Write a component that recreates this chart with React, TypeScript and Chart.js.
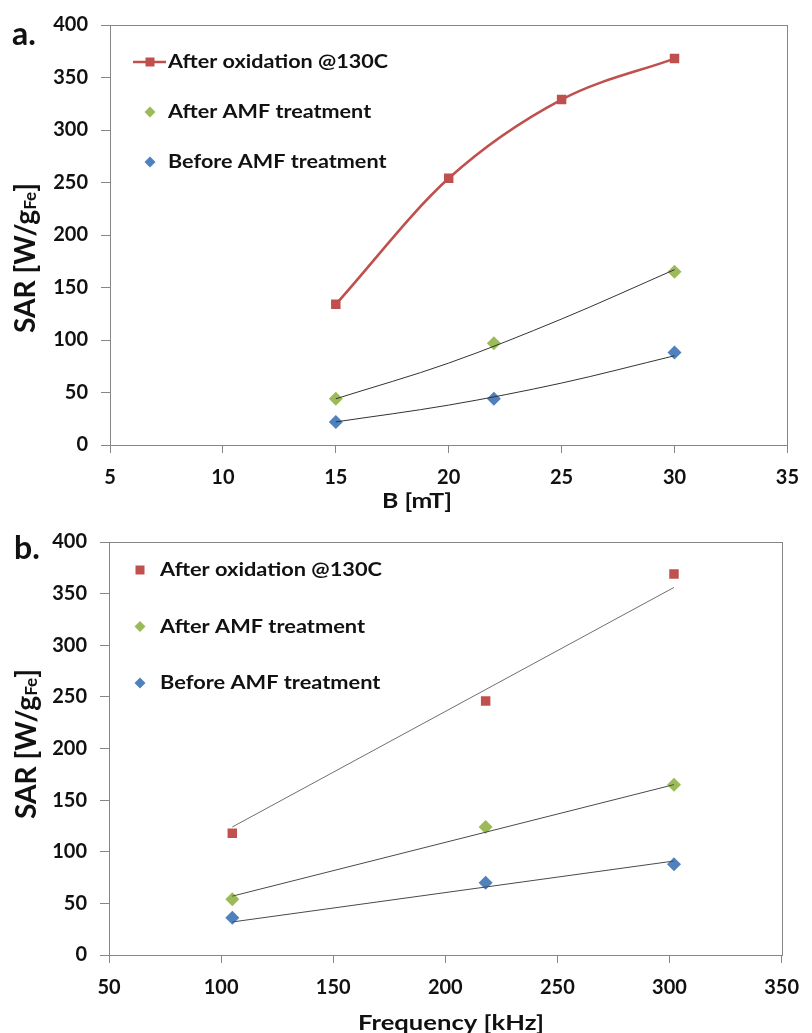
import React, { useEffect, useRef } from "react";
import { Chart, registerables } from "chart.js";

Chart.register(...registerables);

const RED = "#C0504D";
const GREEN = "#9BBB59";
const BLUE = "#4F81BD";
const FONT = "Lato";

// ---------- Panel a : SAR vs B ----------
const fieldOxidized = [15, 20, 25, 30];
const sarOxidizedA = [134, 254, 329, 368];
const fieldAmf = [15, 22, 30];
const sarAfterAmfA = [44, 97, 165];
const sarBeforeAmfA = [22, 44, 88];
// trend lines
const trendFieldA = [15, 20, 25, 30];
const trendAfterAmfA = [44, 78, 120, 167];
const trendBeforeAmfA = [22, 38, 59, 85];
const xTicksA = [5, 10, 15, 20, 25, 30, 35];

// ---------- Panel b : SAR vs frequency ----------
const freqB = [105, 218, 302];
const sarOxidizedB = [118, 246, 369];
const sarAfterAmfB = [54, 124, 165];
const sarBeforeAmfB = [36, 70, 88];
// linear trend lines
const trendFreqB = [105, 302];
const trendOxidizedB = [124, 356];
const trendAfterAmfB = [57, 165];
const trendBeforeAmfB = [32, 91];
const xTicksB = [50, 100, 150, 200, 250, 300, 350];

const yTicks = [0, 50, 100, 150, 200, 250, 300, 350, 400];

const seriesLabels = ["After oxidation @130C", "After AMF treatment", "Before AMF treatment"];

const toXY = (xs: number[], ys: number[]) => xs.map((x, i) => ({ x, y: ys[i] }));

const AXIS_COLOR = "#868686";

function markerDataset(label: string, xs: number[], ys: number[], color: string, style: string, line = false) {
  return {
    label,
    data: toXY(xs, ys),
    showLine: line,
    borderColor: color,
    borderWidth: line ? 2.6 : 0,
    tension: 0.4,
    cubicInterpolationMode: "monotone",
    pointStyle: style,
    pointRadius: style === "rect" ? 6.7 : 7,
    pointBackgroundColor: color,
    pointBorderColor: color,
    pointBorderWidth: 0,
    order: 2,
  };
}

function trendDataset(xs: number[], ys: number[], color: string) {
  return {
    label: "",
    data: toXY(xs, ys),
    showLine: true,
    borderColor: color,
    borderWidth: 1,
    pointRadius: 0,
    tension: 0.4,
    cubicInterpolationMode: "monotone",
    order: 1,
  };
}

type PanelCfg = {
  letter: string;
  letterX: number;
  letterY: number;
  xTitle: string;
  xTitleX: number;
  xTitleY: number;
  xTitleW: number;
  yTitleBaseX: number;
  yTitleCY: number;
  legendMarkerX: number;
  legendTextX: number;
  legendY0: number;
  legendDY: number;
  legendTextW: number;
  lineFrom: number;
  lineTo: number;
};

function drawStretched(ctx: CanvasRenderingContext2D, text: string, x: number, y: number, sx: number, align: "left" | "center") {
  ctx.save();
  ctx.translate(x, y);
  ctx.scale(sx, 1);
  ctx.textAlign = align;
  ctx.fillText(text, 0, 0);
  ctx.restore();
}

function overlayPlugin(cfg: PanelCfg) {
  return {
    id: "overlay",
    beforeDatasetsDraw(chart: any) {
      const { ctx, chartArea: a } = chart;
      ctx.save();
      ctx.strokeStyle = AXIS_COLOR;
      ctx.lineWidth = 1;
      ctx.strokeRect(Math.round(a.left) + 0.5, Math.round(a.top) + 0.5, Math.round(a.right - a.left), Math.round(a.bottom - a.top));
      ctx.restore();
    },
    afterDraw(chart: any) {
      const ctx: CanvasRenderingContext2D = chart.ctx;
      ctx.save();
      ctx.fillStyle = "#111";
      // panel letter
      ctx.font = `bold 32px ${FONT}`;
      ctx.textBaseline = "alphabetic";
      ctx.textAlign = "left";
      ctx.fillText(cfg.letter, cfg.letterX, cfg.letterY);

      // x title
      ctx.font = `bold 21px ${FONT}`;
      ctx.textBaseline = "middle";
      const xw = ctx.measureText(cfg.xTitle).width;
      drawStretched(ctx, cfg.xTitle, cfg.xTitleX, cfg.xTitleY, cfg.xTitleW / xw, "center");

      // y title with subscript
      const big = `bold 28px ${FONT}`;
      const small = `bold 17px ${FONT}`;
      ctx.font = big;
      const w1 = ctx.measureText("SAR [W/g").width;
      const w3 = ctx.measureText("]").width;
      ctx.font = small;
      const w2 = ctx.measureText("Fe").width;
      const total = w1 + w2 + w3;
      const sy = 150 / total;
      ctx.save();
      ctx.translate(cfg.yTitleBaseX, cfg.yTitleCY);
      ctx.rotate(-Math.PI / 2);
      ctx.scale(sy, 1);
      ctx.textBaseline = "alphabetic";
      ctx.textAlign = "left";
      const x0 = -total / 2;
      ctx.font = big;
      ctx.fillText("SAR [W/g", x0, 0);
      ctx.font = small;
      ctx.fillText("Fe", x0 + w1, 1);
      ctx.font = big;
      ctx.fillText("]", x0 + w1 + w2, 0);
      ctx.restore();

      // legend
      ctx.font = `bold 19px ${FONT}`;
      ctx.textBaseline = "middle";
      const lsx = cfg.legendTextW / ctx.measureText(seriesLabels[0]).width;
      const items = chart.data.datasets.filter((d: any) => d.label);
      items.forEach((d: any, i: number) => {
        const y = cfg.legendY0 + i * cfg.legendDY;
        const mx = cfg.legendMarkerX;
        ctx.fillStyle = d.pointBackgroundColor;
        if (d.showLine) {
          ctx.strokeStyle = d.borderColor;
          ctx.lineWidth = 2.6;
          ctx.beginPath();
          ctx.moveTo(cfg.lineFrom, y);
          ctx.lineTo(cfg.lineTo, y);
          ctx.stroke();
        }
        if (d.pointStyle === "rect") {
          ctx.fillRect(mx - 4.5, y - 4.5, 9, 9);
        } else {
          ctx.beginPath();
          ctx.moveTo(mx, y - 5.5);
          ctx.lineTo(mx + 5.5, y);
          ctx.lineTo(mx, y + 5.5);
          ctx.lineTo(mx - 5.5, y);
          ctx.closePath();
          ctx.fill();
        }
        ctx.fillStyle = "#111";
        drawStretched(ctx, d.label, cfg.legendTextX, y, lsx, "left");
      });
      ctx.restore();
    },
  };
}

function makeConfig(
  datasets: any[],
  xTicks: number[],
  padTop: number,
  yAxisWidth: number,
  xAxisHeight: number,
  cfg: PanelCfg
): any {
  const tickFont = { family: FONT, size: 20, weight: "bold" as const };
  return {
    type: "scatter",
    data: { datasets },
    options: {
      animation: false,
      responsive: false,
      events: [],
      layout: { padding: { top: padTop, right: 21, left: 0, bottom: 0 } },
      plugins: { legend: { display: false }, tooltip: { enabled: false }, title: { display: false } },
      scales: {
        x: {
          type: "linear",
          min: xTicks[0],
          max: xTicks[xTicks.length - 1],
          afterBuildTicks: (s: any) => {
            s.ticks = xTicks.map((v) => ({ value: v }));
          },
          ticks: { font: tickFont, color: "#111", padding: 13, maxRotation: 0, autoSkip: false },
          grid: { drawOnChartArea: false, drawTicks: true, tickLength: 8, color: AXIS_COLOR },
          border: { display: true, color: AXIS_COLOR, width: 1 },
          afterFit: (s: any) => {
            s.height = xAxisHeight;
          },
        },
        y: {
          type: "linear",
          min: yTicks[0],
          max: yTicks[yTicks.length - 1],
          afterBuildTicks: (s: any) => {
            s.ticks = yTicks.map((v) => ({ value: v }));
          },
          ticks: { font: tickFont, color: "#111", padding: 13, autoSkip: false },
          grid: { drawOnChartArea: false, drawTicks: true, tickLength: 9, color: AXIS_COLOR },
          border: { display: true, color: AXIS_COLOR, width: 1 },
          afterFit: (s: any) => {
            s.width = yAxisWidth;
          },
        },
      },
    },
    plugins: [overlayPlugin(cfg)],
  };
}

export default function App() {
  const refA = useRef<HTMLCanvasElement | null>(null);
  const refB = useRef<HTMLCanvasElement | null>(null);

  useEffect(() => {
    const dsA = [
      markerDataset(seriesLabels[0], fieldOxidized, sarOxidizedA, RED, "rect", true),
      markerDataset(seriesLabels[1], fieldAmf, sarAfterAmfA, GREEN, "rectRot"),
      markerDataset(seriesLabels[2], fieldAmf, sarBeforeAmfA, BLUE, "rectRot"),
      trendDataset(trendFieldA, trendAfterAmfA, "#333333"),
      trendDataset(trendFieldA, trendBeforeAmfA, "#333333"),
    ];
    const dsB = [
      markerDataset(seriesLabels[0], freqB, sarOxidizedB, RED, "rect"),
      markerDataset(seriesLabels[1], freqB, sarAfterAmfB, GREEN, "rectRot"),
      markerDataset(seriesLabels[2], freqB, sarBeforeAmfB, BLUE, "rectRot"),
      trendDataset(trendFreqB, trendOxidizedB, "#6f6f6f"),
      trendDataset(trendFreqB, trendAfterAmfB, "#4a4a4a"),
      trendDataset(trendFreqB, trendBeforeAmfB, "#4a4a4a"),
    ];
    const cfgA: PanelCfg = {
      letter: "a.", letterX: 12, letterY: 45,
      xTitle: "B [mT]", xTitleX: 417, xTitleY: 501, xTitleW: 70,
      yTitleBaseX: 35, yTitleCY: 258,
      legendMarkerX: 150, legendTextX: 168, legendY0: 62, legendDY: 50, legendTextW: 220,
      lineFrom: 133, lineTo: 166,
    };
    const cfgB: PanelCfg = {
      letter: "b.", letterX: 14, letterY: 42,
      xTitle: "Frequency [kHz]", xTitleX: 451, xTitleY: 506, xTitleW: 186,
      yTitleBaseX: 36, yTitleCY: 227,
      legendMarkerX: 140, legendTextX: 160, legendY0: 53, legendDY: 56.5, legendTextW: 222,
      lineFrom: 0, lineTo: 0,
    };
    const chartA = new Chart(refA.current as HTMLCanvasElement, makeConfig(dsA, xTicksA, 22, 110, 72, cfgA));
    const chartB = new Chart(refB.current as HTMLCanvasElement, makeConfig(dsB, xTicksB, 14, 109, 78, cfgB));
    return () => {
      chartA.destroy();
      chartB.destroy();
    };
  }, []);

  return (
    <div style={{ position: "absolute", left: 0, top: 0, width: 812, height: 1033, background: "#fff" }}>
      <canvas ref={refA} width={812} height={517} style={{ position: "absolute", left: 0, top: 0, width: 812, height: 517 }} />
      <canvas ref={refB} width={812} height={516} style={{ position: "absolute", left: 0, top: 517, width: 812, height: 516 }} />
    </div>
  );
}
